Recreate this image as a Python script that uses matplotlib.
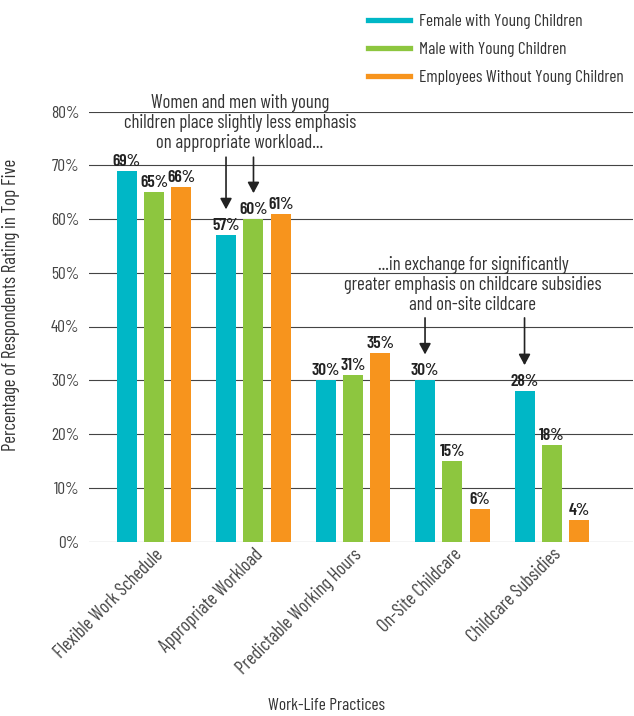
import matplotlib
matplotlib.use("Agg")
import matplotlib.pyplot as plt
from matplotlib.lines import Line2D
import numpy as np

plt.rcParams['font.family'] = ['Barlow Condensed', 'DejaVu Sans']

categories = ["Flexible Work Schedule", "Appropriate Workload",
              "Predictable Working Hours", "On-Site Childcare",
              "Childcare Subsidies"]
series_names = ["Female with Young Children", "Male with Young Children",
                "Employees Without Young Children"]
female_young = [69, 57, 30, 30, 28]
male_young = [65, 60, 31, 15, 18]
without_young = [66, 61, 35, 6, 4]
y_ticks = [0, 10, 20, 30, 40, 50, 60, 70, 80]

colors = ["#00B7C6", "#8DC63F", "#F7941D"]
text_color = "#333333"
fs = 12.5

W, H, DPI = 634, 716, 100
fig = plt.figure(figsize=(W / DPI, H / DPI), dpi=DPI)
ax = fig.add_axes([89 / W, (H - 541.5) / H, (633 - 89) / W, (541.5 - 111.5) / H])

x = np.arange(len(categories))
offset = 0.276
width = 0.201
all_series = [female_young, male_young, without_young]
for i, (vals, col) in enumerate(zip(all_series, colors)):
    xs = x + (i - 1) * offset
    ax.bar(xs, vals, width=width, color=col, zorder=3)
    for xi, v in zip(xs, vals):
        ax.annotate(f"{v}%", (xi, v), xytext=(0, 1.5), textcoords="offset points",
                    ha="center", va="bottom", fontsize=fs, fontweight="semibold",
                    color="#222222", zorder=5)

ax.set_ylim(0, 80)
ax.set_xlim(-0.653, 4.814)
ax.set_yticks(y_ticks)
ax.set_yticklabels([f"{t}%" for t in y_ticks], fontsize=fs, color="#444444")
ax.yaxis.grid(True, color="#444444", linewidth=0.8, zorder=0)
ax.tick_params(axis="y", length=0, pad=7)
ax.set_xticks(x)
ax.set_xticklabels(categories, rotation=45, ha="right", rotation_mode="anchor",
                   fontsize=13.5, color="#444444")
ax.tick_params(axis="x", length=0, pad=3)
for s in ax.spines.values():
    s.set_visible(False)

ax.set_ylabel("Percentage of Respondents Rating in Top Five", fontsize=13.5,
              color=text_color)
ax.yaxis.set_label_coords(-0.127, 0.55)
fig.text(326 / W, 1 - 705 / H, "Work-Life Practices", ha="center", va="center",
         fontsize=fs, color=text_color)

# Callout notes with arrows pointing at the highlighted bars
note_kw = dict(ha="center", va="center", fontsize=13.5, color=text_color,
               linespacing=1.15)
ax.text(0.864, 77.9, "Women and men with young\nchildren place slightly less emphasis\non appropriate workload...",
        **note_kw)
ax.text(3.206, 47.7, "...in exchange for significantly\ngreater emphasis on childcare subsidies\nand on-site cildcare",
        **note_kw)

arrow_kw = dict(arrowstyle="-|>,head_width=0.35,head_length=0.65", color="#222222",
                lw=1.2, shrinkA=0, shrinkB=0)
arrow_targets = [(1 - offset, female_young[1], 71.5), (1, male_young[1], 71.5),
                 (3 - offset, female_young[3], 41.6), (4 - offset, female_young[4], 41.6)]
for xa, v, ytop in arrow_targets:
    ax.annotate("", xy=(xa, v + 4.8), xytext=(xa, ytop),
                arrowprops=arrow_kw, annotation_clip=False)

handles = [Line2D([0], [0], color=c, linewidth=3.8) for c in colors]
fig.legend(handles, series_names, loc="upper left",
           bbox_to_anchor=(368 / W, 1 - 14 / H), frameon=False, fontsize=fs,
           handlelength=2.4, handletextpad=0.52, labelspacing=0.73,
           borderpad=0, borderaxespad=0, labelcolor=text_color)

fig.savefig("out.png", dpi=DPI)
